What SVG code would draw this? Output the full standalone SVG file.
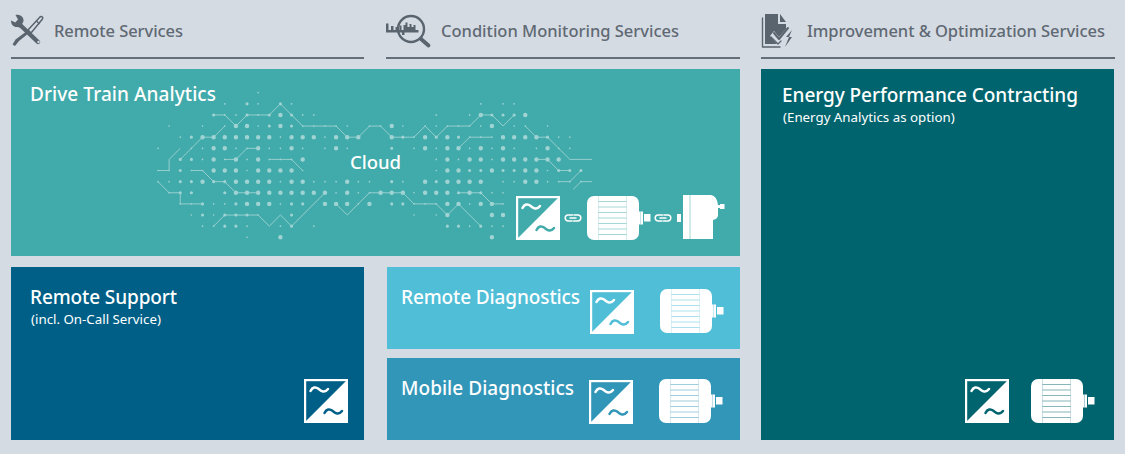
<svg xmlns="http://www.w3.org/2000/svg" width="1125" height="454" viewBox="0 0 1125 454">
<style>
text{font-family:"Noto Sans","Open Sans","Liberation Sans",sans-serif}
.h{font-size:16.500px;fill:#5f6973;font-weight:500}
.t{font-size:19px;fill:#fff;font-weight:500}
.s{font-size:13.300px;fill:#fff}
.rule{fill:#646e78}
.hi{fill:#5a646e}
.hl{fill:none;stroke:#5a646e;stroke-linecap:round;stroke-linejoin:round}
.dot{fill:none;stroke:#a0d3d3;stroke-linecap:round}
.net{fill:none;stroke:#a0d3d3;stroke-width:.08;stroke-linejoin:round}
</style>
<defs>
<symbol id="inverter" viewBox="0 0 44 44" width="44" height="44">
<rect x="1.100" y="1.100" width="41.800" height="41.800" fill="none" stroke="#fff" stroke-width="2.200"/>
<path d="M42 2V42H2Z" fill="#fff"/>
<path d="M6.500 12c2-4 5-4.500 8-2.200s6 4.700 9.500.2" fill="none" stroke="#fff" stroke-width="2.500" stroke-linecap="round"/>
<path d="M20.500 34c2-4 5-4.500 8-2.200s6 4.700 9.500.2" fill="none" stroke="currentColor" stroke-width="2.500" stroke-linecap="round"/>
</symbol>
<symbol id="motor" viewBox="0 0 64 44" width="64" height="44">
<rect x="0" y="0" width="52" height="44" rx="7" fill="#fff"/>
<path d="M52 15.500h4V28.500h-4ZM57 18h6.500V25.500H57Z" fill="#fff"/>
<path d="M11.500 0V44M39.500 0V44" fill="none" stroke="currentColor" stroke-width=".6" opacity=".35"/>
<path d="M11.500 5.500H39.500M11.500 11H39.500M11.500 16.500H39.500M11.500 22H39.500M11.500 27.500H39.500M11.500 33H39.500M11.500 38.500H39.500" fill="none" stroke="currentColor" stroke-width=".8" opacity=".6"/>
<path d="M53.500 15.500V28.500" stroke="currentColor" stroke-width=".7" opacity=".45"/>
</symbol>
<symbol id="link" viewBox="0 0 18 8" width="18" height="8">
<path d="M8.500 1H4.200a3 3 0 0 0 0 6H8M9.500 7h4.300a3 3 0 0 0 0-6H10M6 4h6" fill="none" stroke="#fff" stroke-width="1.500" stroke-linecap="round"/>
</symbol>
</defs>
<rect width="1125" height="454" fill="#d5dbe3"/>

<g id="header-remote">
<g>
<path class="hl" stroke-width="4.400" d="M18 23L38 42"/>
<circle cx="38.500" cy="42" r="1.200" fill="#d5dbe3"/>
<path class="hi" d="M11 20.500l4.500 2 2.500-3-2.500-4.500c3-1 6.500 .5 7.500 3s.5 4-.5 5l-1 5-4-1c-3.500 .5-6.500-2-6.500-6.500Z"/>
<path class="hl" stroke-width="1.500" d="M28 30L39.500 17.500c1.500-2 4-.5 3 1.500L31 33Z"/>
<path class="hl" stroke-width="1.200" d="M36.500 21l2.500 2.500"/>
<path class="hi" d="M27 31l2 2-10 8-4 5-2.500-1.500 3-5Z"/>
</g>
<text class="h" x="54" y="36.700" textLength="129">Remote Services</text>
<rect class="rule" x="11" y="57" width="353" height="2"/>
</g>
<g id="header-monitoring">
<g>
<circle cx="411" cy="29" r="13" fill="none" stroke="#5a646e" stroke-width="2.400"/>
<path class="hl" stroke-width="3.800" d="M421 39L428.500 45.500"/>
<path class="hi" d="M386 23.500h2.500V30H391v-4h2.500v4h2V27h2v3h2v-4.500h2V30h2v-5h2v-2.500h2V27h2v-3h2v3h2V25h2v5h3v2.500H404.500V35H402V32.500H386Z"/>
</g>
<text class="h" x="441" y="36.700" textLength="238">Condition Monitoring Services</text>
<rect class="rule" x="386" y="57" width="354" height="2"/>
</g>
<g id="header-improvement">
<g>
<path class="hl" stroke-width="1.400" d="M762.500 18V47H780"/>
<path class="hi" d="M765 14H778V24H786V29L779 37 774 31 770 36 777 44H765Z"/>
<path class="hi" d="M780 14l6 8h-6Z"/>
<path class="hl" stroke-width="2" d="M774 33l5 6 9-11"/>
<path class="hl" stroke-width="1.300" d="M771 37l7 7 3-3"/>
<path class="hi" d="M792 30l-6 7h3l-4 10 7-10h-3l3-7Z"/>
</g>
<text class="h" x="807" y="36.700" textLength="298">Improvement &amp; Optimization Services</text>
<rect class="rule" x="761" y="57" width="354" height="2"/>
</g>

<g id="drive-train-analytics" style="color:#41aaaa">
<rect x="11" y="69" width="729" height="187" fill="#41aaaa"/>
<text class="t" x="30" y="100.700" textLength="186">Drive Train Analytics</text>
<g id="cloud-network" transform="translate(158 92.700) scale(11.130 11.120)">
<path class="dot" stroke-width=".15" d="M9 0h0M6 1h0M9 1h0M12 1h0M6 2h0M7 2h0M9 2h0M13 2h0M14 2h0M1 3h0M4 3h0M6 3h0M9 3h0M13 3h0M14 3h0M15 3h0M16 3h0M17 3h0M19 3h0M2 4h0M11 4h0M15 4h0M0 5h0M3 5h0M4 5h0M7 5h0M8 5h0M10 5h0M11 5h0M13 5h0M15 5h0M17 5h0M4 6h0M6 6h0M8 6h0M10 6h0M11 6h0M12 6h0M0 7h0M1 7h0M3 7h0M4 7h0M8 7h0M13 7h0M0 8h0M1 8h0M11 8h0M14 8h0M15 8h0M16 8h0M18 8h0M19 8h0M1 9h0M16 9h0M18 9h0M19 9h0M2 10h0M3 10h0M5 10h0M6 10h0M11 10h0M18 10h0M3 11h0M5 11h0M9 11h0M4 12h0M5 12h0M8 12h0M11 12h0M14 12h0M8 13h0M29 1h0M31 1h0M32 1h0M25 2h0M28 2h0M20 3h0M22 3h0M24 3h0M25 3h0M26 3h0M27 3h0M28 3h0M29 3h0M32 3h0M33 3h0M35 3h0M23 4h0M28 4h0M29 4h0M30 4h0M36 4h0M37 4h0M23 5h0M25 5h0M28 5h0M30 5h0M32 5h0M34 5h0M36 5h0M37 5h0M25 6h0M27 6h0M30 6h0M25 7h0M29 7h0M35 7h0M22 8h0M31 8h0M32 8h0M35 8h0M36 8h0M37 8h0M38 8h0M23 9h0M30 9h0M31 9h0M23 10h0M24 10h0M25 10h0M28 10h0M31 10h0M23 11h0M25 11h0M28 12h0M30 12h0M31 12h0"/>
<path class="dot" stroke-width=".28" d="M8 1h0M11 1h0M5 2h0M8 2h0M10 2h0M12 2h0M10 3h0M12 3h0M3 4h0M2 6h0M3 6h0M2 7h0M2 8h0M3 8h0M5 8h0M6 8h0M2 9h0M3 9h0M6 9h0M4 10h0M7 10h0M12 10h0M13 10h0M4 11h0M6 11h0M7 11h0M8 11h0M12 11h0M6 12h0M7 12h0M12 12h0M30 2h0M31 2h0M32 2h0M22 4h0M25 4h0M27 4h0M35 4h0M21 5h0M28 7h0M29 7h0M31 7h0M32 7h0M36 7h0M37 7h0M38 7h0M21 8h0M25 8h0M27 9h0M29 9h0M19 10h0M21 10h0M22 10h0M26 12h0M27 12h0M29 12h0"/>
<path class="dot" stroke-width=".4" d="M11 2h0M7 3h0M8 3h0M11 3h0M4 4h0M5 4h0M6 4h0M7 4h0M8 4h0M9 4h0M10 4h0M12 4h0M13 4h0M14 4h0M16 4h0M17 4h0M18 4h0M5 5h0M6 5h0M9 5h0M12 5h0M16 5h0M5 6h0M7 6h0M9 6h0M13 6h0M5 7h0M6 7h0M7 7h0M9 7h0M10 7h0M11 7h0M12 7h0M4 8h0M7 8h0M8 8h0M9 8h0M10 8h0M12 8h0M13 8h0M17 8h0M7 9h0M8 9h0M9 9h0M10 9h0M11 9h0M12 9h0M13 9h0M14 9h0M15 9h0M17 9h0M8 10h0M9 10h0M10 10h0M15 10h0M16 10h0M17 10h0M19 10h0M11 13h0M29 2h0M33 2h0M21 3h0M30 3h0M21 4h0M24 4h0M26 4h0M31 4h0M32 4h0M33 4h0M34 4h0M24 5h0M26 5h0M27 5h0M29 5h0M31 5h0M35 5h0M26 6h0M28 6h0M29 6h0M31 6h0M32 6h0M33 6h0M34 6h0M35 6h0M36 6h0M26 7h0M27 7h0M30 7h0M33 7h0M34 7h0M24 8h0M26 8h0M27 8h0M28 8h0M29 8h0M33 8h0M34 8h0M20 9h0M21 9h0M22 9h0M24 9h0M25 9h0M26 9h0M28 9h0M26 10h0M27 10h0M29 10h0M30 10h0M26 11h0M30 11h0M31 11h0M30 13h0"/>
<path class="net" d="M5 2H6L7 3 8 2H10L11 1 12 2 13 3H16L17 4H18L19 3H20L21 4H23L24 3 25 4 26 3H28L29 2H30L31 3 32 2M0 7H1V6L2 5M2 6L4 4H5L6 3M6 6H7L8 5H9M10 6H12L13 7M3 7H4L5 8H6L7 9H9M0 8L1 9H2V10H4M5 12L6 11H9L10 12 11 11 12 12 15 9M16 10L17 11 19 9H22L23 10H25L26 11 27 10 29 12M27 5L28 4H30M33 3L34 4H35L37 6H39M34 6H35L36 7H37M36 8H37L38 7M37.300 8.700L38 8H39M27 9H29L30 10H31"/>
</g>
<text x="375.500" y="168.700" text-anchor="middle" font-size="18.500" font-weight="500" fill="#fff">Cloud</text>
<use href="#inverter" x="516" y="196"/>
<use href="#link" x="564" y="214"/>
<use href="#motor" x="587" y="196"/>
<use href="#link" x="654" y="214"/>
<g id="gearbox">
<path fill="#fff" d="M677 214h4v8h-4ZM683 195H711Q717 196 718 205V215Q718 219 713 220V239H683Z"/>
<path d="M690 195V239" stroke="#41aaaa" stroke-width=".8" opacity=".6"/>
<path fill="#fff" d="M718 205h2v3h-2ZM720 204h4.500v5H720Z"/>
</g>
</g>

<g id="remote-support" style="color:#005f87">
<rect x="11" y="267" width="353" height="173" fill="#005f87"/>
<text class="t" x="30" y="303.700" textLength="147">Remote Support</text>
<text class="s" x="31" y="323.500">(incl. On-Call Service)</text>
<use href="#inverter" x="304" y="379"/>
</g>
<g id="remote-diagnostics" style="color:#50bed7">
<rect x="387" y="267" width="353" height="82" fill="#50bed7"/>
<text class="t" x="401" y="303.700" textLength="179">Remote Diagnostics</text>
<use href="#inverter" x="590" y="290"/>
<use href="#motor" x="660" y="289"/>
</g>
<g id="mobile-diagnostics" style="color:#3296b9">
<rect x="387" y="358" width="353" height="82" fill="#3296b9"/>
<text class="t" x="401" y="394.700" textLength="173">Mobile Diagnostics</text>
<use href="#inverter" x="589" y="380"/>
<use href="#motor" x="659" y="379"/>
</g>
<g id="energy-performance-contracting" style="color:#00646e">
<rect x="761" y="69" width="353" height="371" fill="#00646e"/>
<text class="t" x="782" y="101.700" textLength="296">Energy Performance Contracting</text>
<text class="s" x="783" y="121.500">(Energy Analytics as option)</text>
<use href="#inverter" x="965" y="379"/>
<use href="#motor" x="1031" y="379"/>
</g>
<g id="connectors"></g>
</svg>
